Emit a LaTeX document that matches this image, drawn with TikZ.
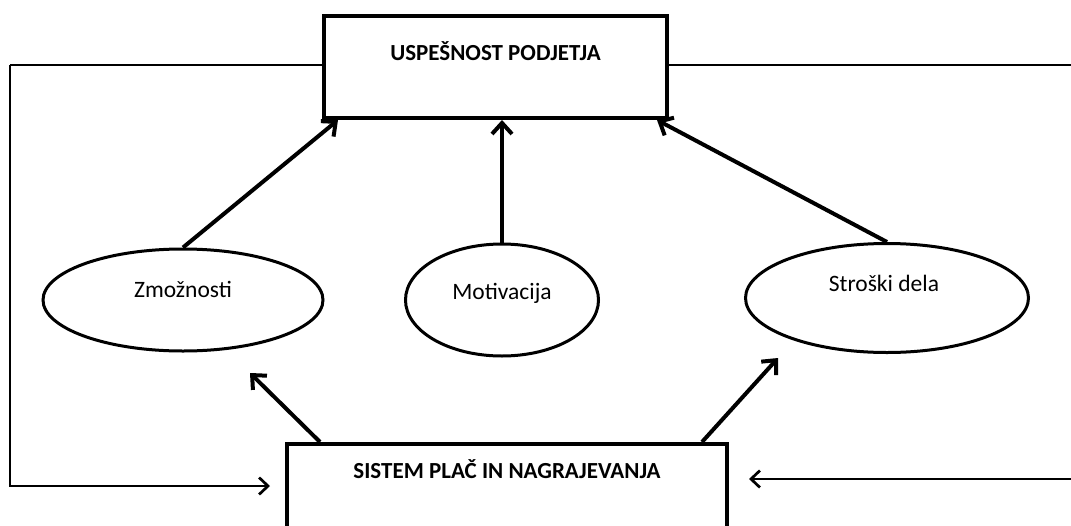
\documentclass[tikz,border=0pt]{standalone}
\usepackage{fontspec}
\setmainfont{Carlito}
\usepackage{tikz}
\usetikzlibrary{arrows.meta,positioning,shapes.geometric,calc}
\tikzset{
  boxbd/.style={draw,line width=4pt,rectangle,inner sep=0pt},
  oval/.style={draw,ellipse,line width=3pt,inner sep=0pt},
  boxtext/.style={anchor=base,font=\fontsize{23}{26}\selectfont\bfseries},
  ovaltext/.style={anchor=base,font=\fontsize{23.5}{26}\selectfont},
  arrowstrong/.style={-{Straight Barb[length=11pt,width=20pt,line width=4pt]},
                      line width=4pt},
  arrowthin/.style={-{Straight Barb[length=9pt,width=17pt,line width=2.7pt]},
                    line width=2.7pt},
}
\begin{document}
\begin{tikzpicture}[x=1pt,y=-1pt]
  \path[use as bounding box,clip](0,0)rectangle(1071,525);
  % boxes
  \node[boxbd,minimum width=343pt,minimum height=102pt](perf)at(495.5,67){};
  \node[boxtext]at([yshift=6.5pt]perf.center){USPEŠNOST PODJETJA};
  \node[boxbd,minimum width=440pt,minimum height=120pt](pay)at(507,504){};
  \node[boxtext]at([yshift=-36.5pt]pay.north){SISTEM PLAČ IN NAGRAJEVANJA};
  % ellipses
  \node[oval,minimum width=280pt,minimum height=102pt](abil)at(183,300){};
  \node[ovaltext]at([yshift=2.5pt]abil.center){Zmožnosti};
  \node[oval,minimum width=193pt,minimum height=112pt](motiv)at(502,300){};
  \node[ovaltext]at([yshift=0.5pt]motiv.center){Motivacija};
  \node[oval,minimum width=283pt,minimum height=109pt](cost)at(887,298){};
  \node[ovaltext]at([shift={(-3,-6.5)}]cost.center){Stroški dela};
  % arrows into the top box
  \draw[arrowstrong](abil.north)--([xshift=16pt]perf.south west);
  \draw[arrowstrong](motiv.north)--(motiv.north|-perf.south);
  \draw[arrowstrong](cost.north)--([xshift=-12pt]perf.south east);
  % arrows out of the bottom box
  \draw[arrowstrong]([xshift=35pt]pay.north west)--([shift={(67,73)}]abil.center);
  \draw[arrowstrong]([xshift=-27pt]pay.north east)--([shift={(-109,60)}]cost.center);
  % feedback lines
  \coordinate(ltop)at(10,65);
  \coordinate(lbot)at(10,486);
  \coordinate(rtop)at(1085,65);
  \coordinate(rbot)at(1085,479);
  \draw[line width=2.7pt]([yshift=2pt]perf.west)--(ltop);
  \draw[arrowthin,line join=miter](ltop)--(lbot)--([shift={(-15,-18)}]pay.west);
  \draw[line width=2.7pt]([yshift=2pt]perf.east)--(rtop);
  \draw[arrowthin](rbot)--([shift={(20,-25)}]pay.east);
\end{tikzpicture}
\end{document}
